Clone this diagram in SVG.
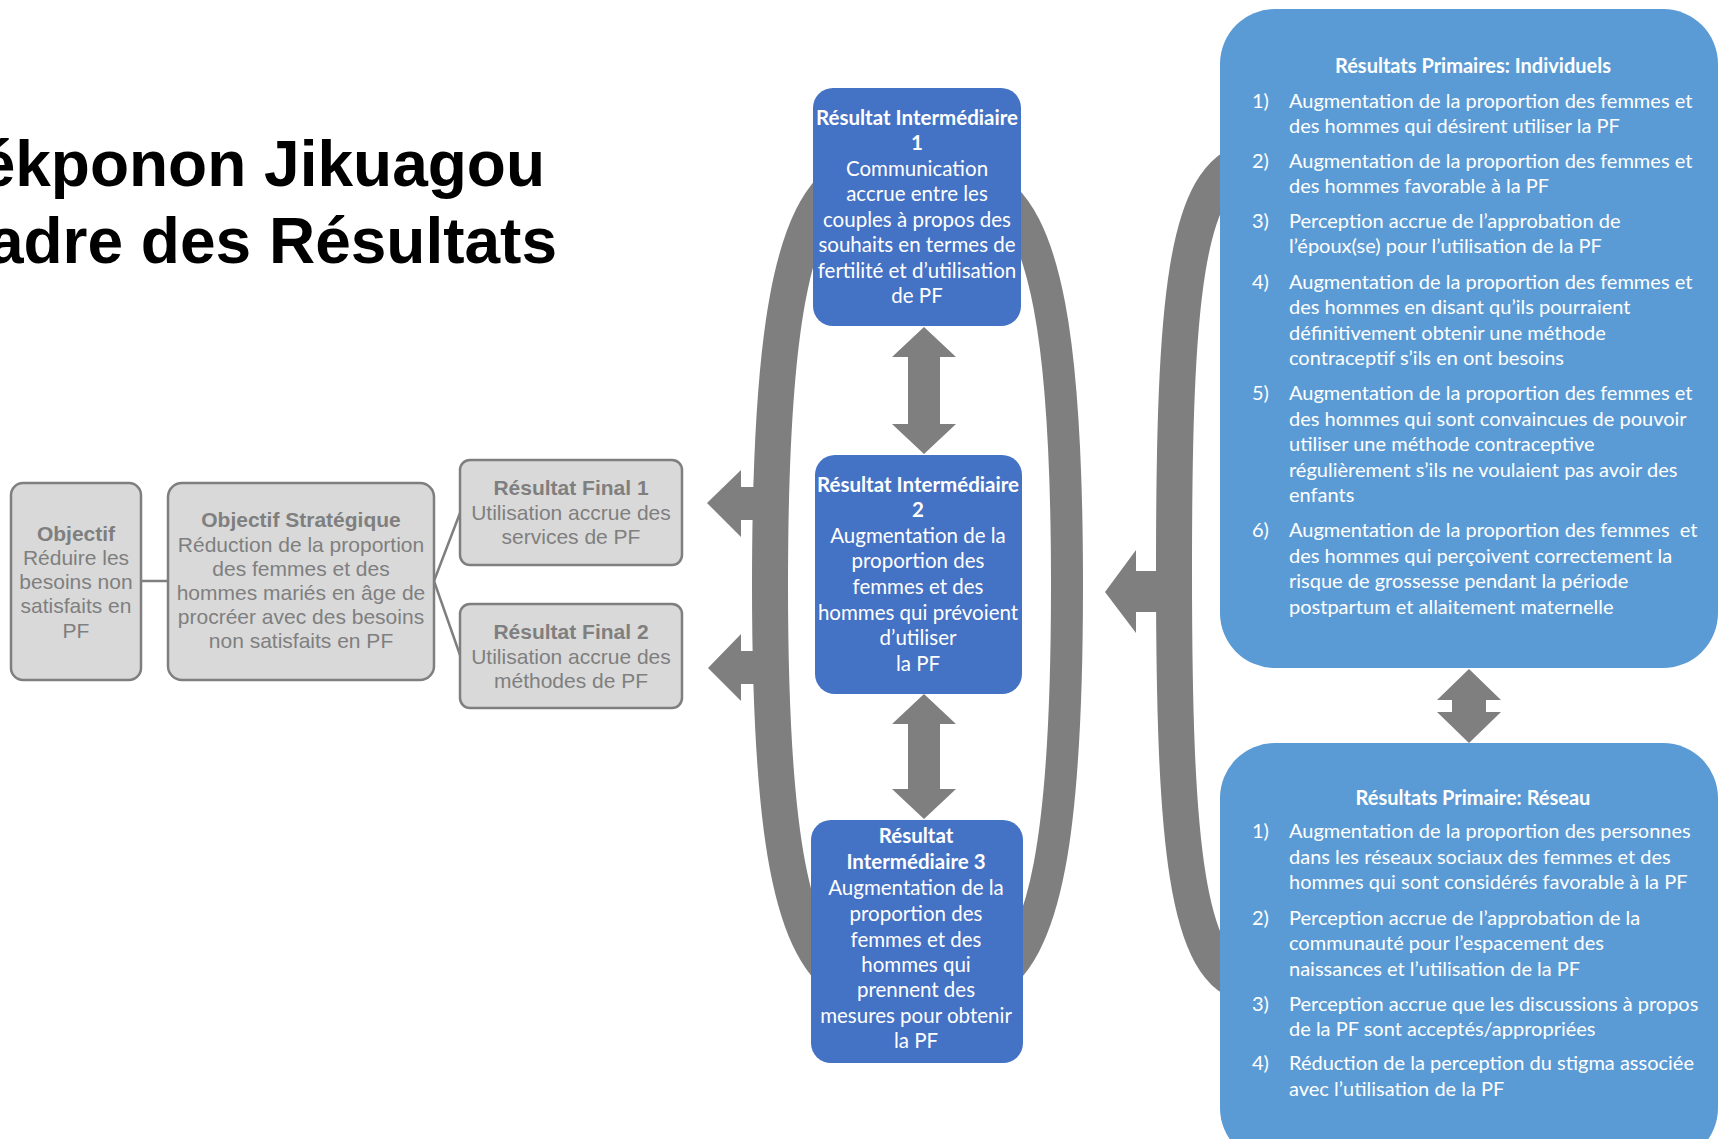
<svg xmlns="http://www.w3.org/2000/svg" width="1721" height="1139" viewBox="0 0 1721 1139">
<style>
.title{font-family:"Liberation Sans",Arial,sans-serif;font-weight:bold;font-size:64px;fill:#000;text-anchor:end}
.gbox{fill:#d9d9d9;stroke:#7f7f7f;stroke-width:2.5}
.gt{font-family:"Liberation Sans",Arial,sans-serif;font-size:21px;fill:#7f7f7f;text-anchor:middle}
.b{font-weight:bold}
.ir{fill:#4472c4}
.pr{fill:#5b9bd5}
.wt{font-family:Lato,"Noto Sans",sans-serif;font-size:20.5px;fill:#fff}
.ws{font-size:20px}
.c{text-anchor:middle}
.ring{fill:none;stroke:#7f7f7f;stroke-width:34}
.arr{fill:#7f7f7f}
.conn{stroke:#7f7f7f;stroke-width:2.5;fill:none}
</style>
<rect width="1721" height="1139" fill="#fff"/>
<g id="title">
<text class="title" x="545" y="186">ékponon Jikuagou</text>
<text class="title" x="557" y="263">adre des Résultats</text>
</g>
<g id="connectors">
<path class="ring" style="stroke-width:36" d="M 850,175 C 790,205 770,340 770,585 C 770,830 790,955 850,985"/>
<path class="ring" style="stroke-width:32" d="M 987,185 C 1047,215 1067,345 1067,585 C 1067,830 1047,955 987,985"/>
<path class="ring" style="stroke-width:36" d="M 1250,160 C 1185,175 1174,300 1174,570 C 1174,840 1185,975 1250,985"/>
<polygon class="arr" points="707,503 741,470 741,487 772,487 772,520 741,520 741,537"/>
<polygon class="arr" points="708,668 741,634 741,651 772,651 772,684 741,684 741,701"/>
<polygon class="arr" points="1105,592 1136,550 1136,571 1178,571 1178,612 1136,612 1136,633"/>
<polygon class="arr" points="924,327 956,357 940,357 940,424 956,424 924,454 892,424 908,424 908,357 892,357"/>
<polygon class="arr" points="924,694 956,724 940,724 940,789 956,789 924,819 892,789 908,789 908,724 892,724"/>
<polygon class="arr" points="1469,669 1501,700 1486,700 1486,712 1501,712 1469,743 1437,712 1452,712 1452,700 1437,700"/>
<line class="conn" x1="141" y1="581" x2="168" y2="581"/>
<polyline class="conn" points="460,513 434,581 460,655"/>
</g>
<g id="objectif">
<rect class="gbox" x="11" y="483" width="130" height="197" rx="12"/>
<text class="gt b" x="76" y="541">Objectif</text>
<text class="gt" x="76" y="565">Réduire les</text>
<text class="gt" x="76" y="589">besoins non</text>
<text class="gt" x="76" y="613">satisfaits en</text>
<text class="gt" x="76" y="638">PF</text>
</g>
<g id="objectif-strategique">
<rect class="gbox" x="168" y="483" width="266" height="197" rx="14"/>
<text class="gt b" x="301" y="527">Objectif Stratégique</text>
<text class="gt" x="301" y="552">Réduction de la proportion</text>
<text class="gt" x="301" y="576">des femmes et des</text>
<text class="gt" x="301" y="600">hommes mariés en âge de</text>
<text class="gt" x="301" y="624">procréer avec des besoins</text>
<text class="gt" x="301" y="648">non satisfaits en PF</text>
</g>
<g id="resultat-final-1">
<rect class="gbox" x="460" y="460" width="222" height="105" rx="10"/>
<text class="gt b" x="571" y="495">Résultat Final 1</text>
<text class="gt" x="571" y="520">Utilisation accrue des</text>
<text class="gt" x="571" y="544">services de PF</text>
</g>
<g id="resultat-final-2">
<rect class="gbox" x="460" y="604" width="222" height="104" rx="10"/>
<text class="gt b" x="571" y="639">Résultat Final 2</text>
<text class="gt" x="571" y="664">Utilisation accrue des</text>
<text class="gt" x="571" y="688">méthodes de PF</text>
</g>
<g id="ri1">
<rect class="ir" x="813" y="88" width="208" height="238" rx="20"/>
<text class="wt c b" x="917" y="125">Résultat Intermédiaire</text>
<text class="wt c b" x="917" y="150">1</text>
<text class="wt c" x="917" y="176">Communication</text>
<text class="wt c" x="917" y="201">accrue entre les</text>
<text class="wt c" x="917" y="227">couples à propos des</text>
<text class="wt c" x="917" y="252">souhaits en termes de</text>
<text class="wt c" x="917" y="278">fertilité et d’utilisation</text>
<text class="wt c" x="917" y="303">de PF</text>
</g>
<g id="ri2">
<rect class="ir" x="815" y="455" width="207" height="239" rx="20"/>
<text class="wt c b" x="918" y="492">Résultat Intermédiaire</text>
<text class="wt c b" x="918" y="517">2</text>
<text class="wt c" x="918" y="543">Augmentation de la</text>
<text class="wt c" x="918" y="568">proportion des</text>
<text class="wt c" x="918" y="594">femmes et des</text>
<text class="wt c" x="918" y="620">hommes qui prévoient</text>
<text class="wt c" x="918" y="645">d’utiliser</text>
<text class="wt c" x="918" y="671">la PF</text>
</g>
<g id="ri3">
<rect class="ir" x="811" y="820" width="212" height="243" rx="20"/>
<text class="wt c b" x="916" y="843">Résultat</text>
<text class="wt c b" x="916" y="869">Intermédiaire 3</text>
<text class="wt c" x="916" y="895">Augmentation de la</text>
<text class="wt c" x="916" y="921">proportion des</text>
<text class="wt c" x="916" y="947">femmes et des</text>
<text class="wt c" x="916" y="972">hommes qui</text>
<text class="wt c" x="916" y="997">prennent des</text>
<text class="wt c" x="916" y="1023">mesures pour obtenir</text>
<text class="wt c" x="916" y="1048">la PF</text>
</g>
<g id="primaires-individuels">
<rect class="pr" x="1220" y="9" width="498" height="659" rx="55"/>
<text class="wt ws c b" x="1473" y="73">Résultats Primaires: Individuels</text>
<text class="wt ws" x="1252" y="108">1)</text>
<text class="wt ws" x="1289" y="108">Augmentation de la proportion des femmes et</text>
<text class="wt ws" x="1289" y="133">des hommes qui désirent utiliser la PF</text>
<text class="wt ws" x="1252" y="168">2)</text>
<text class="wt ws" x="1289" y="168">Augmentation de la proportion des femmes et</text>
<text class="wt ws" x="1289" y="193">des hommes favorable à la PF</text>
<text class="wt ws" x="1252" y="228">3)</text>
<text class="wt ws" x="1289" y="228">Perception accrue de l’approbation de</text>
<text class="wt ws" x="1289" y="253">l’époux(se) pour l’utilisation de la PF</text>
<text class="wt ws" x="1252" y="289">4)</text>
<text class="wt ws" x="1289" y="289">Augmentation de la proportion des femmes et</text>
<text class="wt ws" x="1289" y="314">des hommes en disant qu’ils pourraient</text>
<text class="wt ws" x="1289" y="340">définitivement obtenir une méthode</text>
<text class="wt ws" x="1289" y="365">contraceptif s’ils en ont besoins</text>
<text class="wt ws" x="1252" y="400">5)</text>
<text class="wt ws" x="1289" y="400">Augmentation de la proportion des femmes et</text>
<text class="wt ws" x="1289" y="426">des hommes qui sont convaincues de pouvoir</text>
<text class="wt ws" x="1289" y="451">utiliser une méthode contraceptive</text>
<text class="wt ws" x="1289" y="477">régulièrement s’ils ne voulaient pas avoir des</text>
<text class="wt ws" x="1289" y="502">enfants</text>
<text class="wt ws" x="1252" y="537">6)</text>
<text class="wt ws" x="1289" y="537" xml:space="preserve">Augmentation de la proportion des femmes  et</text>
<text class="wt ws" x="1289" y="563">des hommes qui perçoivent correctement la</text>
<text class="wt ws" x="1289" y="588">risque de grossesse pendant la période</text>
<text class="wt ws" x="1289" y="614">postpartum et allaitement maternelle</text>
</g>
<g id="primaires-reseau">
<rect class="pr" x="1220" y="743" width="498" height="420" rx="55"/>
<text class="wt ws c b" x="1473" y="805">Résultats Primaire: Réseau</text>
<text class="wt ws" x="1252" y="838">1)</text>
<text class="wt ws" x="1289" y="838">Augmentation de la proportion des personnes</text>
<text class="wt ws" x="1289" y="864">dans les réseaux sociaux des femmes et des</text>
<text class="wt ws" x="1289" y="889">hommes qui sont considérés favorable à la PF</text>
<text class="wt ws" x="1252" y="925">2)</text>
<text class="wt ws" x="1289" y="925">Perception accrue de l’approbation de la</text>
<text class="wt ws" x="1289" y="950">communauté pour l’espacement des</text>
<text class="wt ws" x="1289" y="976">naissances et l’utilisation de la PF</text>
<text class="wt ws" x="1252" y="1011">3)</text>
<text class="wt ws" x="1289" y="1011">Perception accrue que les discussions à propos</text>
<text class="wt ws" x="1289" y="1036">de la PF sont acceptés/appropriées</text>
<text class="wt ws" x="1252" y="1070">4)</text>
<text class="wt ws" x="1289" y="1070">Réduction de la perception du stigma associée</text>
<text class="wt ws" x="1289" y="1096">avec l’utilisation de la PF</text>
</g>
</svg>
